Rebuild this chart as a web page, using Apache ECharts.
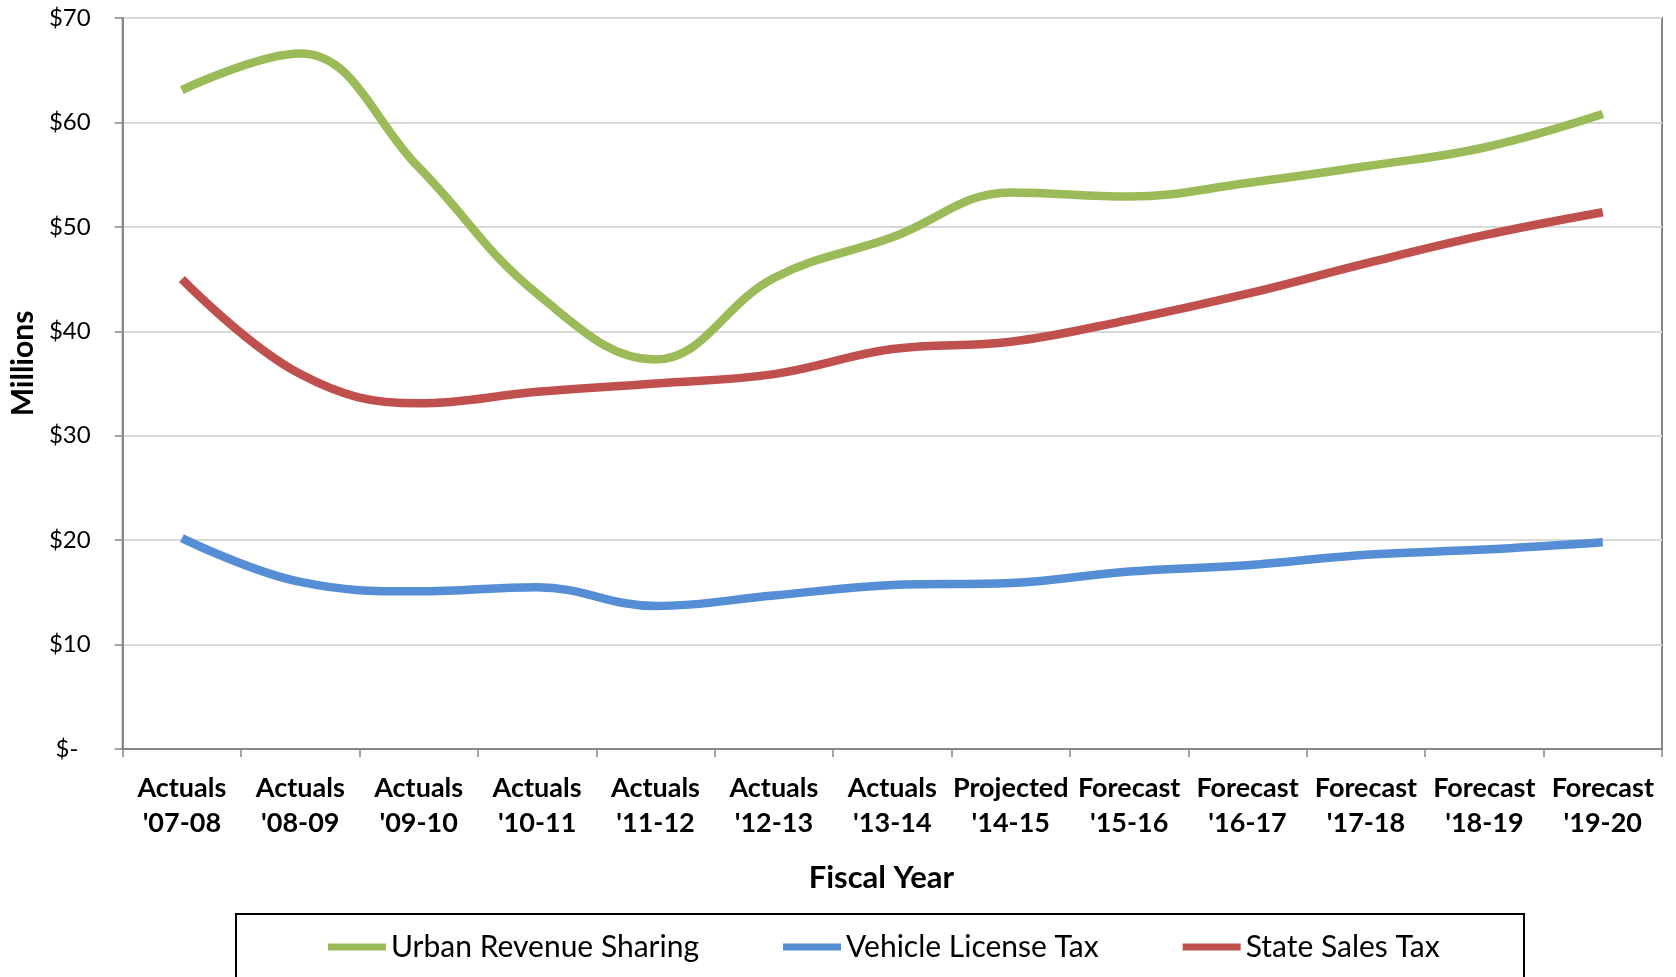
<!DOCTYPE html>
<html>
<head>
<meta charset="utf-8">
<script src="https://cdn.jsdelivr.net/npm/echarts@6/dist/echarts.min.js"></script>
<style>
  html, body { margin: 0; padding: 0; background: #fff; }
  #main { width: 1676px; height: 977px; }
</style>
</head>
<body>
<div id="main"></div>
<script>
var years = ["Actuals\n'07-08", "Actuals\n'08-09", "Actuals\n'09-10", "Actuals\n'10-11", "Actuals\n'11-12",
    "Actuals\n'12-13", "Actuals\n'13-14", "Projected\n'14-15", "Forecast\n'15-16", "Forecast\n'16-17",
    "Forecast\n'17-18", "Forecast\n'18-19", "Forecast\n'19-20"];

// millions of dollars
var urbanRevenue = [63.1, 66.6, 55.7, 43.6, 37.3, 45.1, 49.0, 53.3, 52.9, 54.2, 55.8, 57.6, 60.8];
var vehicleLicense = [20.2, 16.0, 15.1, 15.5, 13.7, 14.7, 15.7, 15.9, 17.0, 17.6, 18.6, 19.1, 19.8];
var stateSales = [45.0, 35.9, 33.1, 34.2, 35.0, 35.9, 38.3, 39.0, 41.1, 43.6, 46.5, 49.2, 51.4];

var font = 'Lato, "Open Sans", sans-serif';

var chart = echarts.init(document.getElementById('main'));

function line(name, data, color) {
    return {
        name: name,
        type: 'line',
        data: data,
        smooth: 0.4,
        symbol: 'none',
        lineStyle: { width: 8.5, color: color },
        itemStyle: { color: color }
    };
}

chart.setOption({
    animation: false,
    backgroundColor: '#fff',
    grid: {
        left: 122, right: 14, top: 18, bottom: 228,
        show: true, borderColor: '#868686', borderWidth: 2
    },
    legend: {
        left: 328, top: 932,
        padding: 0,
        itemWidth: 58, itemHeight: 7, itemGap: 84,
        icon: 'rect',
        textStyle: { fontFamily: font, fontSize: 30, color: '#000' },
        data: ['Urban Revenue Sharing', 'Vehicle License Tax', 'State Sales Tax']
    },
    graphic: [{
        type: 'rect',
        shape: { x: 236, y: 914, width: 1288, height: 80 },
        style: { fill: 'none', stroke: '#000', lineWidth: 2 },
        silent: true
    }],
    xAxis: {
        type: 'category',
        data: years,
        boundaryGap: true,
        name: 'Fiscal Year',
        nameLocation: 'middle',
        nameGap: 113,
        nameTextStyle: { fontFamily: font, fontSize: 31, fontWeight: 'bold', color: '#000', padding: [0, 22, 0, 0] },
        axisLine: { lineStyle: { color: '#868686', width: 2 } },
        axisTick: { show: true, length: 8, lineStyle: { color: '#868686', width: 1.5 } },
        axisLabel: {
            interval: 0, margin: 22,
            fontFamily: font, fontSize: 27, fontWeight: 'bold', color: '#000', lineHeight: 35
        }
    },
    yAxis: {
        type: 'value',
        min: 0, max: 70, interval: 10,
        name: 'Millions',
        nameLocation: 'middle',
        nameGap: 84,
        nameRotate: 90,
        nameTextStyle: { fontFamily: font, fontSize: 30, fontWeight: 'bold', color: '#000', padding: [0, 0, 0, 40] },
        axisLine: { show: true, lineStyle: { color: '#868686', width: 2 } },
        axisTick: { show: true, length: 8, lineStyle: { color: '#868686', width: 1.5 } },
        axisLabel: {
            margin: 32,
            fontFamily: font, fontSize: 24, color: '#000',
            formatter: function (v) { return v === 0 ? '$-  ' : '$' + v; }
        },
        splitLine: { lineStyle: { color: '#D9D9D9', width: 2 } }
    },
    series: [
        line('Urban Revenue Sharing', urbanRevenue, '#9BBB59'),
        line('Vehicle License Tax', vehicleLicense, '#558ED5'),
        line('State Sales Tax', stateSales, '#C0504D')
    ]
});
</script>
</body>
</html>
